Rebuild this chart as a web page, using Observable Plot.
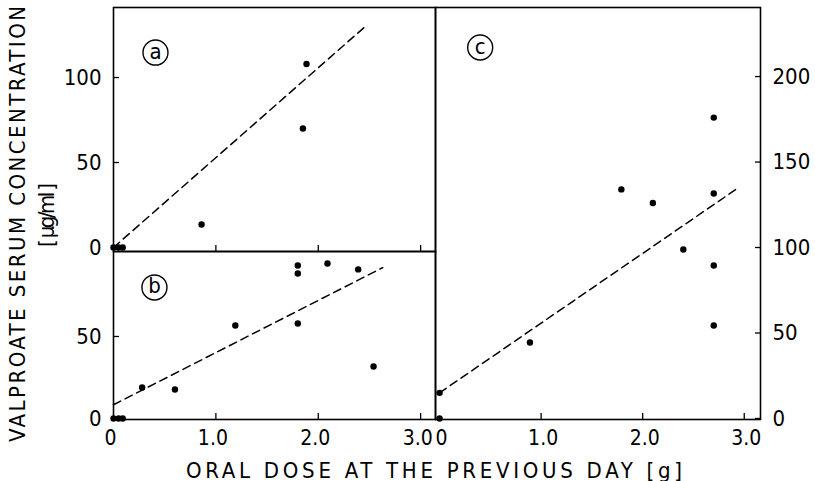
<!DOCTYPE html>
<html><head><meta charset="utf-8">
<script src="https://cdn.jsdelivr.net/npm/d3@7"></script>
<script src="https://cdn.jsdelivr.net/npm/@observablehq/plot@0.6"></script>
<style>
body{margin:0;background:#fff}
#chart{position:relative;width:815px;height:481px;overflow:hidden;background:#fff}
#chart svg{position:absolute;overflow:visible}
</style>
</head><body><div id="chart"></div>
<script>
// ---- data ----
const doseA = [0, 0.05, 0.09, 0.86, 1.85, 1.885];
const concA = [0, 0, 0, 13.5, 70, 108];
const fitDoseA = [0, 2.47];
const fitConcA = [0, 130.6];

const doseB = [0, 0.05, 0.09, 0.28, 0.60, 1.19, 1.80, 1.80, 1.80, 2.09, 2.39, 2.54];
const concB = [0, 0, 0, 18.9, 17.7, 56.7, 57.9, 88.4, 93.3, 94.5, 90.9, 31.7];
const fitDoseB = [0, 2.63];
const fitConcB = [8.4, 92];

const doseC = [0, 0, 0.89, 1.79, 2.10, 2.40, 2.70, 2.70, 2.70, 2.70];
const concC = [0, 15, 44.4, 134, 126, 98.8, 176, 131.6, 89.5, 54.4];
const fitDoseC = [0, 2.93];
const fitConcC = [15, 134.5];

const xTickValues = [0, 1, 2, 3];
const xTickLabels = ["0", "1.0", "2.0", "3.0"];
const yTicksA = [0, 50, 100];
const yTicksB = [0, 50];
const yTicksC = [0, 50, 100, 150, 200];

const panelLetters = ["a", "b", "c"];
const yTitle = "VALPROATE SERUM CONCENTRATION";
const yUnit = "[ μg/ml ]";
const xTitle = "ORAL DOSE AT THE PREVIOUS DAY [g]";

// ---- drawing ----
const FONT = "'DejaVu Sans Condensed', 'DejaVu Sans', sans-serif";
const zip = (xs, ys) => xs.map((x, i) => ({x, y: ys[i]}));
const fmtX = d => xTickLabels[xTickValues.indexOf(d)];

function panel(cfg) {
  const side = cfg.yAnchor;
  const marks = [
    Plot.frame({stroke: "black", strokeWidth: 1.6}),
    Plot.axisY({anchor: side, ticks: cfg.yTicks, tickSize: 6, dx: side === "left" ? 6 : -6,
      fill: "none", label: null, stroke: "black", strokeWidth: 1.3}),
    Plot.axisY({anchor: side, ticks: cfg.yTicks, tickSize: 0, tickPadding: cfg.yPad,
      label: null, fill: "black", fontSize: 22}),
    Plot.axisX({anchor: "bottom", ticks: xTickValues.slice(1), tickSize: 6, dy: -6,
      fill: "none", label: null, stroke: "black", strokeWidth: 1.3}),
    Plot.line(zip(cfg.fitX, cfg.fitY), {x: "x", y: "y", stroke: "black",
      strokeWidth: 1.5, strokeDasharray: "8,5"}),
    Plot.dot(zip(cfg.xs, cfg.ys), {x: "x", y: "y", r: 3.2, fill: "black", stroke: "none"}),
    Plot.dot([cfg.letter], {x: "x", y: "y", r: 12.5, stroke: "black", strokeWidth: 1.4, fill: "none"}),
    Plot.text([cfg.letter], {x: "x", y: "y", text: "t", fontSize: 22, fill: "black", dy: -1})
  ];
  if (cfg.xLabels) marks.push(Plot.axisX({anchor: "bottom", ticks: xTickValues, tickSize: 0,
      tickPadding: 11, tickFormat: fmtX, label: null, fill: "black", fontSize: 21, dx: cfg.xdx}));
  const svg = Plot.plot({
    width: cfg.width, height: cfg.height,
    marginLeft: cfg.ml, marginRight: cfg.mr, marginTop: cfg.mt, marginBottom: cfg.mb,
    x: {domain: cfg.xDomain, axis: null},
    y: {domain: cfg.yDomain, axis: null},
    style: {fontFamily: FONT, fontSize: "20px", color: "black", background: "transparent", overflow: "visible"},
    marks
  });
  svg.style.left = cfg.left + "px";
  svg.style.top = cfg.top + "px";
  document.getElementById("chart").appendChild(svg);
}

// panel a
panel({left: 0, top: 0, width: 440, height: 260, ml: 113, mr: 5, mt: 7, mb: 9,
  xDomain: [0, 3.145], yDomain: [-2.35, 141.2], yAnchor: "left", yTicks: yTicksA, yPad: 12,
  xs: doseA, ys: concA, fitX: fitDoseA, fitY: fitConcA,
  letter: {x: 0.41, y: 114.7, t: panelLetters[0]}, xLabels: false});
// panel b
panel({left: 0, top: 240, width: 440, height: 240, ml: 113, mr: 5, mt: 11, mb: 61,
  xDomain: [0, 3.145], yDomain: [-0.6, 101.8], yAnchor: "left", yTicks: yTicksB, yPad: 12,
  xs: doseB, ys: concB, fitX: fitDoseB, fitY: fitConcB,
  letter: {x: 0.40, y: 79.9, t: panelLetters[1]}, xLabels: true, xdx: -3});
// panel c
panel({left: 430, top: 0, width: 385, height: 481, ml: 5, mr: 55, mt: 7, mb: 62,
  xDomain: [-0.04, 3.16], yDomain: [-0.6, 240.4], yAnchor: "right", yTicks: yTicksC, yPad: 12,
  xs: doseC, ys: concC, fitX: fitDoseC, fitY: fitConcC,
  letter: {x: 0.40, y: 217, t: panelLetters[2]}, xLabels: true, xdx: 2});

// axis titles
const ov = d3.select("#chart").append("svg")
  .attr("width", 815).attr("height", 481).style("left", "0px").style("top", "0px")
  .style("font-family", FONT).style("pointer-events", "none");
ov.append("text").attr("transform", "translate(17,224) rotate(-90)")
  .attr("text-anchor", "middle").attr("dominant-baseline", "central")
  .attr("font-size", 22).attr("textLength", 436).attr("lengthAdjust", "spacing").text(yTitle);
ov.append("text").attr("transform", "translate(46,215) rotate(-90)")
  .attr("text-anchor", "middle").attr("dominant-baseline", "central")
  .attr("font-size", 22).attr("textLength", 64).attr("lengthAdjust", "spacing").text(yUnit);
ov.append("text").attr("x", 434).attr("y", 470)
  .attr("text-anchor", "middle").attr("dominant-baseline", "central")
  .attr("font-size", 22).attr("textLength", 496).attr("lengthAdjust", "spacing").text(xTitle);
</script>
</body></html>
